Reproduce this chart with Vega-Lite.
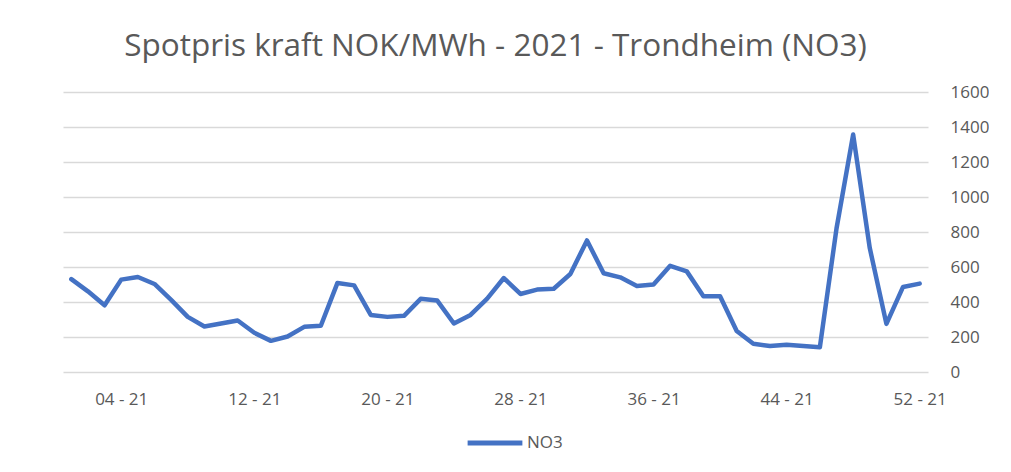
{
  "$schema": "https://vega.github.io/schema/vega-lite/v6.json",
  "width": 865,
  "height": 280,
  "autosize": {"type": "pad"},
  "padding": {"left": 63, "top": 31, "right": 0, "bottom": 0},
  "background": "white",
  "title": {
    "text": "Spotpris kraft NOK/MWh - 2021 - Trondheim (NO3)",
    "font": "Open Sans",
    "fontSize": 31.5,
    "fontWeight": "normal",
    "color": "#595959",
    "anchor": "middle",
    "offset": 20.5
  },
  "config": {
    "view": {"stroke": null},
    "axis": {"labelFont": "Open Sans", "labelColor": "#595959", "labelFontSize": 17},
    "legend": {"labelFont": "Open Sans", "labelColor": "#595959", "labelFontSize": 17}
  },
  "data": {
    "values": [
      {"week": 1, "series": "NO3", "price": 531},
      {"week": 2, "series": "NO3", "price": 461},
      {"week": 3, "series": "NO3", "price": 381},
      {"week": 4, "series": "NO3", "price": 528},
      {"week": 5, "series": "NO3", "price": 543},
      {"week": 6, "series": "NO3", "price": 503},
      {"week": 7, "series": "NO3", "price": 412},
      {"week": 8, "series": "NO3", "price": 315},
      {"week": 9, "series": "NO3", "price": 260},
      {"week": 10, "series": "NO3", "price": 277},
      {"week": 11, "series": "NO3", "price": 294},
      {"week": 12, "series": "NO3", "price": 224},
      {"week": 13, "series": "NO3", "price": 178},
      {"week": 14, "series": "NO3", "price": 203},
      {"week": 15, "series": "NO3", "price": 258},
      {"week": 16, "series": "NO3", "price": 264},
      {"week": 17, "series": "NO3", "price": 509},
      {"week": 18, "series": "NO3", "price": 495},
      {"week": 19, "series": "NO3", "price": 326},
      {"week": 20, "series": "NO3", "price": 315},
      {"week": 21, "series": "NO3", "price": 321},
      {"week": 22, "series": "NO3", "price": 418},
      {"week": 23, "series": "NO3", "price": 408},
      {"week": 24, "series": "NO3", "price": 277},
      {"week": 25, "series": "NO3", "price": 326},
      {"week": 26, "series": "NO3", "price": 419},
      {"week": 27, "series": "NO3", "price": 537},
      {"week": 28, "series": "NO3", "price": 446},
      {"week": 29, "series": "NO3", "price": 471},
      {"week": 30, "series": "NO3", "price": 476},
      {"week": 31, "series": "NO3", "price": 560},
      {"week": 32, "series": "NO3", "price": 752},
      {"week": 33, "series": "NO3", "price": 564},
      {"week": 34, "series": "NO3", "price": 541},
      {"week": 35, "series": "NO3", "price": 492},
      {"week": 36, "series": "NO3", "price": 500},
      {"week": 37, "series": "NO3", "price": 607},
      {"week": 38, "series": "NO3", "price": 575},
      {"week": 39, "series": "NO3", "price": 433},
      {"week": 40, "series": "NO3", "price": 433},
      {"week": 41, "series": "NO3", "price": 234},
      {"week": 42, "series": "NO3", "price": 161},
      {"week": 43, "series": "NO3", "price": 148},
      {"week": 44, "series": "NO3", "price": 156},
      {"week": 45, "series": "NO3", "price": 148},
      {"week": 46, "series": "NO3", "price": 142},
      {"week": 47, "series": "NO3", "price": 820},
      {"week": 48, "series": "NO3", "price": 1357},
      {"week": 49, "series": "NO3", "price": 708},
      {"week": 50, "series": "NO3", "price": 275},
      {"week": 51, "series": "NO3", "price": 486},
      {"week": 52, "series": "NO3", "price": 505}
    ]
  },
  "mark": {"type": "line", "strokeWidth": 4.5, "strokeJoin": "round", "strokeCap": "round"},
  "encoding": {
    "x": {
      "field": "week",
      "type": "quantitative",
      "scale": {"domain": [0.5, 52.5], "nice": false, "zero": false},
      "axis": {
        "values": [4, 12, 20, 28, 36, 44, 52],
        "labelExpr": "(datum.value < 10 ? '0' : '') + datum.value + ' - 21'",
        "title": null,
        "grid": false,
        "domain": false,
        "ticks": false,
        "labelPadding": 19
      }
    },
    "y": {
      "field": "price",
      "type": "quantitative",
      "scale": {"domain": [0, 1600], "nice": false},
      "axis": {
        "orient": "right",
        "values": [0, 200, 400, 600, 800, 1000, 1200, 1400, 1600],
        "format": "d",
        "title": null,
        "domain": false,
        "ticks": false,
        "gridColor": "#d9d9d9",
        "gridWidth": 1.3,
        "labelAlign": "left",
        "labelPadding": 22
      }
    },
    "color": {
      "field": "series",
      "type": "nominal",
      "scale": {"range": ["#4472C4"]},
      "legend": {
        "orient": "none",
        "legendX": 402,
        "legendY": 321,
        "direction": "horizontal",
        "title": null,
        "symbolType": "stroke",
        "symbolStrokeWidth": 5,
        "symbolSize": 3000,
        "labelOffset": 2
      }
    }
  }
}
